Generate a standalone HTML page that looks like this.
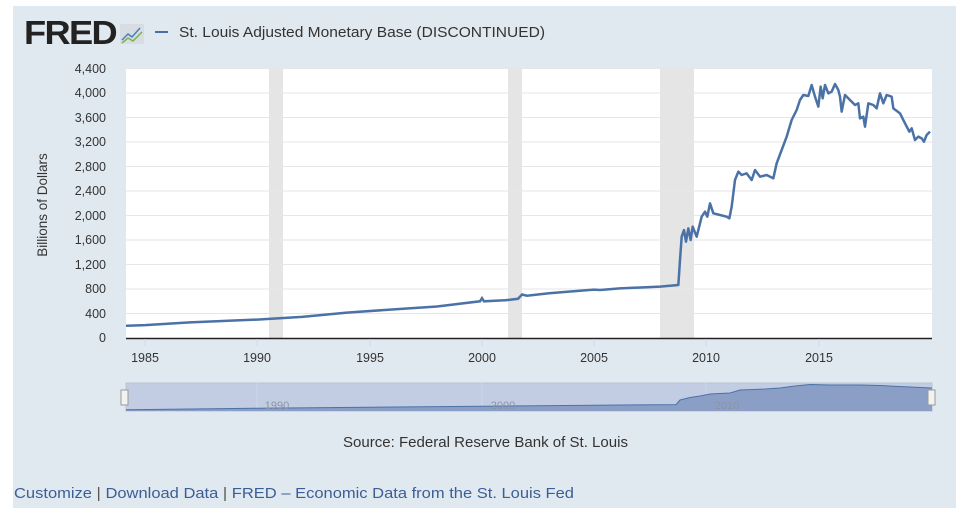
<!DOCTYPE html>
<html><head><meta charset="utf-8"><style>
body{margin:0;background:#fff;width:972px;height:516px;overflow:hidden;font-family:"Liberation Sans",sans-serif}
</style></head><body>
<svg width="972" height="516" xmlns="http://www.w3.org/2000/svg" style="position:absolute;left:0;top:0">
<rect x="13" y="6" width="943" height="502" fill="#e1e9f0"/>
<text x="24" y="44" font-size="33" font-weight="bold" fill="#222" letter-spacing="-1.5" textLength="92" lengthAdjust="spacingAndGlyphs">FRED</text>
<rect x="120" y="24" width="24" height="20" fill="#d7dde3"/>
<polyline points="122,40 128,34 132,37 140,28" fill="none" stroke="#4a7cc0" stroke-width="1.5"/>
<polyline points="122,43 128,38 133,41 142,32" fill="none" stroke="#7db34a" stroke-width="1.5"/>
<line x1="155" y1="32" x2="168" y2="32" stroke="#4b6fa3" stroke-width="2"/>
<text x="179" y="37" font-size="15" fill="#333" textLength="366" lengthAdjust="spacingAndGlyphs">St. Louis Adjusted Monetary Base (DISCONTINUED)</text>
<rect x="126" y="68" width="806" height="270" fill="#fff"/>
<rect x="269" y="68" width="14" height="270" fill="#e5e5e5"/>
<rect x="508" y="68" width="14" height="270" fill="#e5e5e5"/>
<rect x="660" y="68" width="34" height="270" fill="#e5e5e5"/>
<g stroke="#e6e6e6" stroke-width="1">
<line x1="126" x2="932" y1="68.5" y2="68.5"/><line x1="126" x2="932" y1="93" y2="93"/><line x1="126" x2="932" y1="117.5" y2="117.5"/><line x1="126" x2="932" y1="142" y2="142"/><line x1="126" x2="932" y1="166.5" y2="166.5"/><line x1="126" x2="932" y1="191" y2="191"/><line x1="126" x2="932" y1="215.5" y2="215.5"/><line x1="126" x2="932" y1="240" y2="240"/><line x1="126" x2="932" y1="264.5" y2="264.5"/><line x1="126" x2="932" y1="289" y2="289"/><line x1="126" x2="932" y1="313.5" y2="313.5"/>
</g>
<line x1="126" x2="932" y1="338.5" y2="338.5" stroke="#222" stroke-width="1.5"/>
<g font-size="12.5" fill="#333" text-anchor="end">
<text x="106" y="73">4,400</text><text x="106" y="97">4,000</text><text x="106" y="122">3,600</text><text x="106" y="146">3,200</text><text x="106" y="171">2,800</text><text x="106" y="195">2,400</text><text x="106" y="220">2,000</text><text x="106" y="244">1,600</text><text x="106" y="269">1,200</text><text x="106" y="293">800</text><text x="106" y="318">400</text><text x="106" y="342">0</text>
</g>
<text transform="translate(47,205) rotate(-90)" font-size="13.5" fill="#333" text-anchor="middle">Billions of Dollars</text>
<g stroke="#ccd6eb"><line x1="145" x2="145" y1="339" y2="346"/><line x1="257" x2="257" y1="339" y2="346"/><line x1="370" x2="370" y1="339" y2="346"/><line x1="482" x2="482" y1="339" y2="346"/><line x1="594" x2="594" y1="339" y2="346"/><line x1="706" x2="706" y1="339" y2="346"/><line x1="819" x2="819" y1="339" y2="346"/></g>
<g font-size="12.5" fill="#333" text-anchor="middle">
<text x="145" y="362">1985</text><text x="257" y="362">1990</text><text x="370" y="362">1995</text><text x="482" y="362">2000</text><text x="594" y="362">2005</text><text x="706" y="362">2010</text><text x="819" y="362">2015</text>
</g>
<polyline fill="none" stroke="#4b72a6" stroke-width="2.5" points="126,325.8 145,325.1 190,322.4 257,319.6 302,316.9 347,312.6 392,309.5 437,306.5 480,301.3 482,298.2 484,301.3 505,300.3 518,298.8 522,294.5 527,295.7 549,293.3 572,291.4 594,289.6 600,290"/>
<g transform="translate(600,60) scale(0.33333)">
<polyline fill="none" stroke="#4b72a6" stroke-width="7.5" stroke-linejoin="round" points="0,690 60,685 180,680 235,675 240,600 245,530 252,510 258,545 265,505 272,540 278,500 290,530 305,470 315,455 322,470 330,430 340,460 360,465 380,470 388,475 395,440 405,360 415,335 425,345 440,340 455,360 465,330 480,350 500,345 520,355 530,310 545,270 560,230 575,180 590,150 600,120 610,105 625,108 635,75 645,110 655,140 662,80 668,115 675,75 685,100 695,95 705,72 715,90 720,110 725,155 735,105 750,120 765,135 775,130 780,175 790,170 795,200 805,130 820,135 830,145 840,100 850,130 860,105 875,110 880,145 900,160 915,190 928,215 935,205 945,240 955,230 965,235 972,245 980,225 990,215"/>
</g>
<rect x="126" y="383" width="806" height="28" fill="#c2cde3" stroke="#b8c3d6"/>
<g stroke="#d0d8e6"><line x1="257" x2="257" y1="383" y2="411"/><line x1="482" x2="482" y1="383" y2="411"/><line x1="706" x2="706" y1="383" y2="411"/></g>
<polygon fill="#8b9fc6" points="126,411 126,409.8 257,408.2 482,406.3 594,405.2 676,404.6 680,400 690,397.5 700,396 710,394 730,393 740,390 765,389 780,388 795,386 810,384.5 830,385 860,385 880,385.5 910,387 932,388 932,411"/>
<polyline fill="none" stroke="#4b72a6" stroke-width="1" points="126,409.8 257,408.2 482,406.3 594,405.2 676,404.6 680,400 690,397.5 700,396 710,394 730,393 740,390 765,389 780,388 795,386 810,384.5 830,385 860,385 880,385.5 910,387 932,388"/>
<g font-size="11" fill="#8a94a6" text-anchor="middle"><text x="277" y="409">1990</text><text x="503" y="409">2000</text><text x="727" y="409">2010</text></g>
<rect x="121" y="390" width="7" height="15" fill="#f2f2f2" stroke="#999"/>
<rect x="928" y="390" width="7" height="15" fill="#f2f2f2" stroke="#999"/>
<text x="343" y="447" font-size="15" fill="#333" textLength="285" lengthAdjust="spacingAndGlyphs">Source: Federal Reserve Bank of St. Louis</text>
<text x="14" y="498" font-size="15" fill="#3b5e94" textLength="560" lengthAdjust="spacingAndGlyphs">Customize <tspan fill="#555"> | </tspan> Download Data <tspan fill="#555"> | </tspan> FRED – Economic Data from the St. Louis Fed</text>
</svg>
</body></html>
